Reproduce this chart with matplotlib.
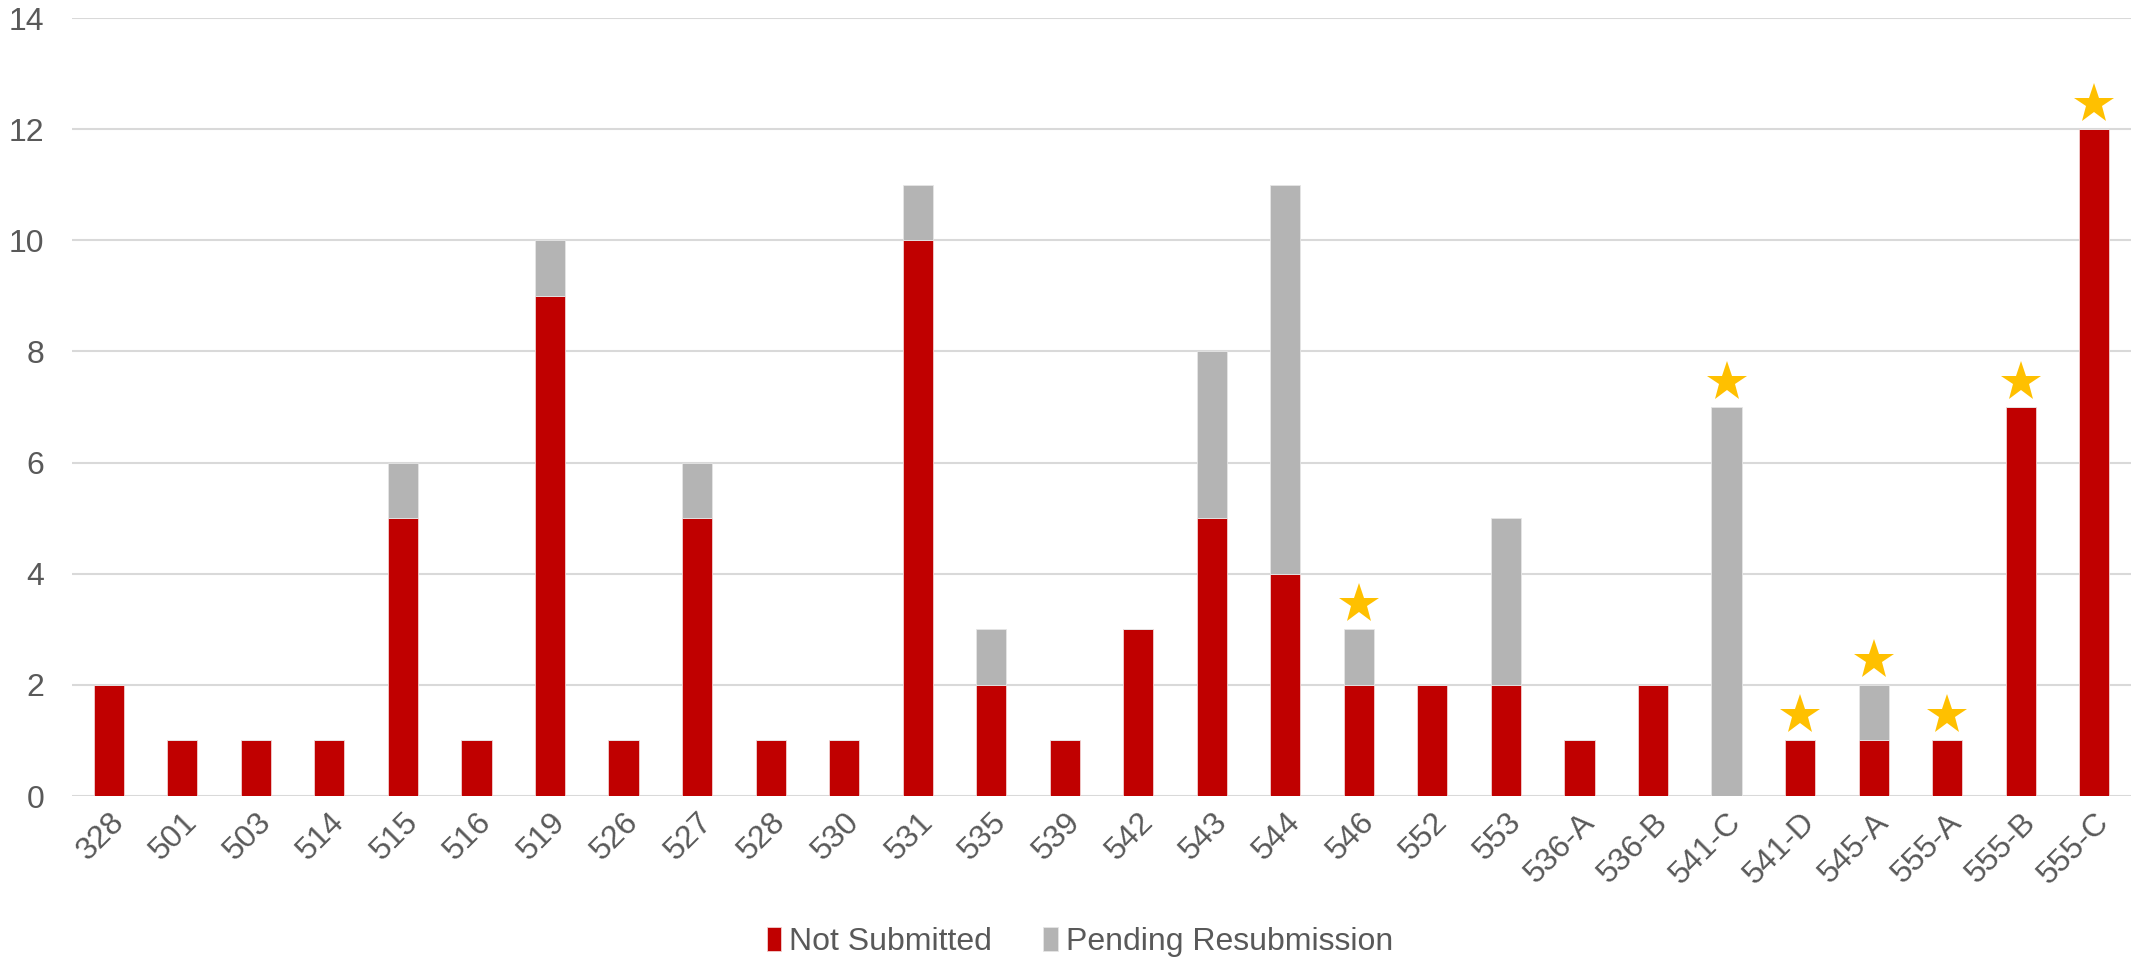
import matplotlib
matplotlib.use("Agg")
import matplotlib.pyplot as plt
import numpy as np

categories = ["328", "501", "503", "514", "515", "516", "519", "526", "527", "528",
              "530", "531", "535", "539", "542", "543", "544", "546", "552", "553",
              "536-A", "536-B", "541-C", "541-D", "545-A", "555-A", "555-B", "555-C"]
not_submitted = [2, 1, 1, 1, 5, 1, 9, 1, 5, 1,
                 1, 10, 2, 1, 3, 5, 4, 2, 2, 2,
                 1, 2, 0, 1, 1, 1, 7, 12]
pending = [0, 0, 0, 0, 1, 0, 1, 0, 1, 0,
           0, 1, 1, 0, 0, 3, 7, 1, 0, 3,
           0, 0, 7, 0, 1, 0, 0, 0]
starred = ["546", "541-C", "541-D", "545-A", "555-A", "555-B", "555-C"]

plt.rcParams['font.family'] = ['Liberation Sans', 'DejaVu Sans']
RED = "#C00000"
GREY = "#B4B4B4"
GOLD = "#FFC000"
TXT = "#595959"
GRID = "#D9D9D9"

fig = plt.figure(figsize=(21.31, 9.64), dpi=100)
ax = fig.add_axes([72/2131, 1 - 796/964, (2131 - 72)/2131, (796 - 18)/964])

x = np.arange(len(categories))
ns = np.array(not_submitted)
pr = np.array(pending)
w = 0.41
ax.bar(x, ns, w, color=RED, edgecolor="#F2D0D0", linewidth=0.6, label="Not Submitted", zorder=3)
ax.bar(x, pr, w, bottom=ns, color=GREY, edgecolor="#E6E6E6", linewidth=0.6, label="Pending Resubmission", zorder=3)

tot = ns + pr
sx = [categories.index(c) for c in starred]
ax.plot(sx, tot[sx] + 0.45, linestyle="none", marker="*", markersize=30,
        color=GOLD, markeredgewidth=0, zorder=4)

ax.set_xlim(-0.5, len(categories) - 0.5)
ax.set_ylim(0, 14)
ax.set_yticks(np.arange(0, 15, 2))
ax.yaxis.grid(True, color=GRID, linewidth=1.5, zorder=0)
for s in ["left", "right", "top", "bottom"]:
    ax.spines[s].set_visible(False)
ax.tick_params(axis="y", length=0, pad=20, labelsize=23, labelcolor=TXT)
ax.tick_params(axis="x", length=0, pad=8, labelsize=23, labelcolor=TXT)
ax.set_xticks(x)
ax.set_xticklabels(categories, rotation=45, ha="right", rotation_mode="anchor")

ax.legend(loc="center", bbox_to_anchor=(1080/2131, 1 - 942/964), bbox_transform=fig.transFigure,
          ncol=2, frameon=False, fontsize=23, labelcolor=TXT, handlelength=0.45,
          handleheight=0.75, handletextpad=0.25, columnspacing=1.6)

fig.savefig("out.png", dpi=100)
